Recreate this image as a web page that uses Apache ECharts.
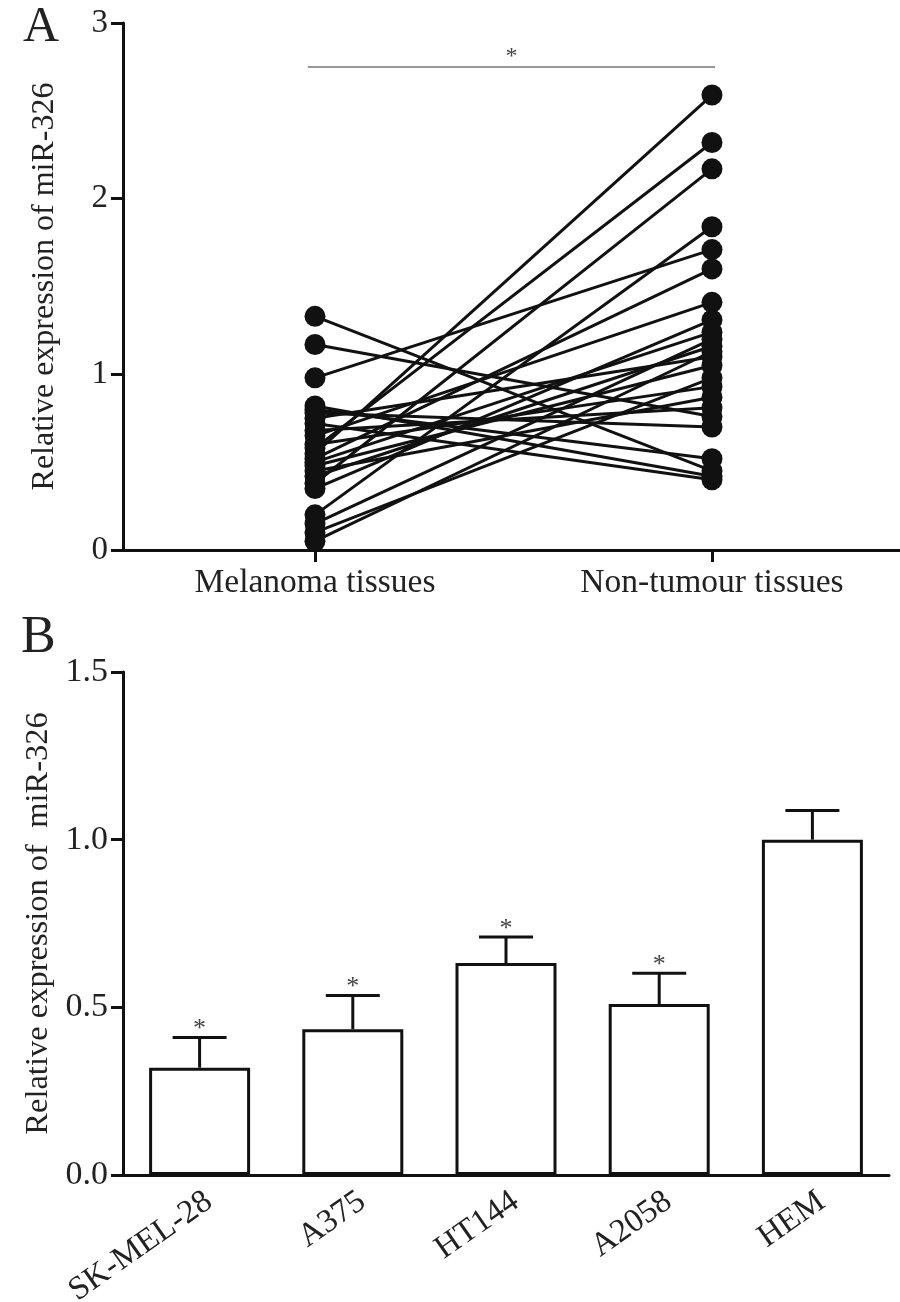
<!DOCTYPE html>
<html>
<head>
<meta charset="utf-8">
<script src="https://cdn.jsdelivr.net/npm/echarts@6/dist/echarts.min.js"></script>
<style>
  html, body { margin: 0; padding: 0; background: #fff; }
  #chart { width: 900px; height: 1302px; }
</style>
</head>
<body>
<div id="chart"></div>
<script>
// ---------- Panel A data ----------
const categoriesA = ['Melanoma tissues', 'Non-tumour tissues'];
const melanoma   = [1.33, 1.17, 0.98, 0.82, 0.80, 0.78, 0.75, 0.72, 0.68, 0.65, 0.60, 0.58, 0.55, 0.52, 0.50, 0.48, 0.45, 0.42, 0.38, 0.35, 0.20, 0.15, 0.10, 0.05];
const nonTumour  = [0.45, 0.76, 1.71, 0.42, 0.52, 0.70, 1.10, 0.40, 0.81, 1.41, 0.93, 2.32, 2.59, 1.60, 1.24, 1.05, 0.87, 1.16, 2.17, 1.31, 1.84, 1.20, 0.98, 1.13];
const sigLevelA = 2.75;

// ---------- Panel B data ----------
const cellLines = ['SK-MEL-28', 'A375', 'HT144', 'A2058', 'HEM'];
const meanB = [0.32, 0.435, 0.632, 0.51, 1.0];
const errB  = [0.09, 0.10, 0.078, 0.092, 0.087];
const starB = [1, 1, 1, 1, 0];
const yTicksB = ['0.0', '0.5', '1.0', '1.5'];

const FONT = "'Liberation Serif', 'Times New Roman', serif";
const TXT = '#222';
const INK = '#111';

const chart = echarts.init(document.getElementById('chart'), null, { renderer: 'canvas' });

const pairSeries = melanoma.map((m, i) => ({
  type: 'line',
  xAxisIndex: 0, yAxisIndex: 0,
  data: [[0, m], [1, nonTumour[i]]],
  symbol: 'circle',
  symbolSize: 21,
  itemStyle: { color: INK },
  lineStyle: { color: INK, width: 3 },
  silent: true,
  z: 3
}));

pairSeries[0].markLine = {
  silent: true,
  symbol: ['none', 'none'],
  lineStyle: { color: '#999', width: 2, type: 'solid' },
  label: { show: true, position: 'middle', formatter: '*', fontFamily: FONT, fontSize: 24, color: '#444', distance: -2 },
  data: [[{ coord: [-0.018, sigLevelA] }, { coord: [1.008, sigLevelA] }]]
};

const option = {
  animation: false,
  backgroundColor: '#fff',
  textStyle: { fontFamily: FONT },
  title: [
    { text: 'A', left: 18, top: -2, textStyle: { fontFamily: FONT, fontSize: 50, fontWeight: 'normal', color: TXT } },
    { text: 'B', left: 16, top: 607, textStyle: { fontFamily: FONT, fontSize: 52, fontWeight: 'normal', color: TXT } }
  ],
  grid: [
    { left: 123, top: 23, width: 777, height: 527, containLabel: false, outerBoundsMode: 'none' },
    { left: 123, top: 672, width: 766, height: 503, containLabel: false, outerBoundsMode: 'none' }
  ],
  xAxis: [
    {
      gridIndex: 0, type: 'value', min: -0.4836, max: 1.4736,
      axisLine: { onZero: false, lineStyle: { color: INK, width: 3 } },
      axisTick: { show: true, customValues: [0, 1], length: 12, lineStyle: { color: INK, width: 3 } },
      axisLabel: { customValues: [0, 1], formatter: v => categoriesA[Math.round(v)],
        color: TXT, fontFamily: FONT, fontSize: 33.5, margin: 16 },
      splitLine: { show: false }
    },
    {
      gridIndex: 1, type: 'category', data: cellLines, boundaryGap: true,
      axisLine: { lineStyle: { color: INK, width: 3 } },
      axisTick: { alignWithLabel: true, length: 12, lineStyle: { color: INK, width: 3 } },
      axisLabel: { color: TXT, fontFamily: FONT, fontSize: 33, margin: 10, rotate: 35, interval: 0, verticalAlign: 'top' }
    }
  ],
  yAxis: [
    {
      gridIndex: 0, type: 'value', min: 0, max: 3, interval: 1,
      name: 'Relative expression of miR-326', nameLocation: 'middle', nameGap: 62,
      nameTextStyle: { color: TXT, fontFamily: FONT, fontSize: 32 },
      axisLine: { show: true, onZero: false, lineStyle: { color: INK, width: 3 } },
      axisTick: { show: true, length: 12, lineStyle: { color: INK, width: 3 } },
      axisLabel: { color: TXT, fontFamily: FONT, fontSize: 33, margin: 15 },
      splitLine: { show: false }
    },
    {
      gridIndex: 1, type: 'value', min: 0, max: 1.5, interval: 0.5,
      name: 'Relative expression of  miR-326', nameLocation: 'middle', nameGap: 66,
      nameTextStyle: { color: TXT, fontFamily: FONT, fontSize: 32.5 },
      axisLine: { show: true, onZero: false, lineStyle: { color: INK, width: 3 } },
      axisTick: { show: true, length: 12, lineStyle: { color: INK, width: 3 } },
      axisLabel: { color: TXT, fontFamily: FONT, fontSize: 34, margin: 15,
        formatter: v => yTicksB[Math.round(v / 0.5)] },
      splitLine: { show: false }
    }
  ],
  series: [
    ...pairSeries,
    {
      type: 'bar', xAxisIndex: 1, yAxisIndex: 1,
      data: meanB, barWidth: 101,
      itemStyle: { color: '#fff', borderColor: INK, borderWidth: 3 },
      silent: true, z: 2
    },
    {
      type: 'custom', xAxisIndex: 1, yAxisIndex: 1, silent: true, z: 4,
      data: cellLines.map((c, i) => [i, meanB[i], errB[i], starB[i]]),
      renderItem: function (params, api) {
        const x = api.value(0), m = api.value(1), e = api.value(2), s = api.value(3);
        const p0 = api.coord([x, m]);
        const p1 = api.coord([x, m + e]);
        const half = 27;
        const children = [
          { type: 'line', shape: { x1: p0[0], y1: p0[1], x2: p1[0], y2: p1[1] }, style: { stroke: INK, lineWidth: 3 } },
          { type: 'line', shape: { x1: p1[0] - half, y1: p1[1], x2: p1[0] + half, y2: p1[1] }, style: { stroke: INK, lineWidth: 3 } }
        ];
        if (s) {
          children.push({ type: 'text', x: p1[0], y: p1[1] + 5,
            style: { text: '*', fontFamily: FONT, fontSize: 26, fill: '#444', textAlign: 'center', textVerticalAlign: 'bottom' } });
        }
        return { type: 'group', children: children };
      }
    }
  ]
};

chart.setOption(option);
</script>
</body>
</html>
